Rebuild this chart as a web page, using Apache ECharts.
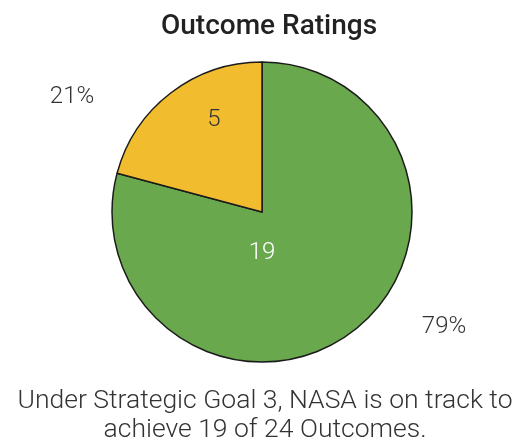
<!DOCTYPE html>
<html>
<head>
<meta charset="utf-8">
<style>
  html, body { margin: 0; padding: 0; background: #ffffff; }
  #chart { width: 515px; height: 447px; }
</style>
<script src="https://cdn.jsdelivr.net/npm/echarts@6/dist/echarts.min.js"></script>
</head>
<body>
<div id="chart"></div>
<script>
// Outcome counts by rating
const categories = ['On track', 'Not on track'];
const outcomeCounts = [19, 5];
const sliceColors = ['#6aa84e', '#f1bd2e'];

const chartTitle = 'Outcome Ratings';
const caption = 'Under Strategic Goal 3, NASA is on track to\nachieve 19 of 24 Outcomes.';

// Label anchor points (pixels) for the count and percent labels
const countLabelPos = [[262, 253], [214, 120]];
const percentLabelPos = [[444, 327], [72, 97]];
const countLabelColor = ['#ffffff', '#333333'];

const pieData = categories.map((name, i) => ({
  name: name,
  value: outcomeCounts[i],
  itemStyle: { color: sliceColors[i] },
  label: { color: countLabelColor[i] }
}));

const FONT = 'Roboto, "Liberation Sans", Arial, sans-serif';
const center = [262, 212];
const radius = 150;

const chart = echarts.init(document.getElementById('chart'));
chart.setOption({
  animation: false,
  title: {
    text: chartTitle,
    left: 156,
    top: 8,
    textStyle: { fontFamily: FONT, fontSize: 28, fontWeight: 500, color: '#222222' }
  },
  graphic: [
    {
      type: 'text',
      x: 265,
      y: 387,
      style: {
        text: caption,
        fontFamily: FONT,
        fontSize: 26.5,
        fontWeight: 300,
        fill: '#333333',
        lineHeight: 29,
        align: 'center',
        verticalAlign: 'top'
      }
    }
  ],
  series: [
    {
      type: 'pie',
      center: center,
      radius: radius,
      startAngle: 90,
      clockwise: true,
      silent: true,
      data: pieData,
      itemStyle: { borderColor: '#1b1b1b', borderWidth: 1.5 },
      label: {
        show: true,
        position: 'inside',
        formatter: p => String(p.value),
        fontFamily: FONT,
        fontSize: 24,
        fontWeight: 300
      },
      labelLine: { show: false },
      labelLayout: p => ({
        x: countLabelPos[p.dataIndex][0],
        y: countLabelPos[p.dataIndex][1],
        align: 'center',
        verticalAlign: 'middle'
      })
    },
    {
      type: 'pie',
      center: center,
      radius: radius,
      startAngle: 90,
      clockwise: true,
      silent: true,
      z: 3,
      data: categories.map((name, i) => ({ name: name, value: outcomeCounts[i] })),
      itemStyle: { color: 'rgba(0,0,0,0)', borderWidth: 0 },
      label: {
        show: true,
        position: 'outside',
        formatter: p => Math.round(p.percent) + '%',
        fontFamily: FONT,
        fontSize: 24,
        fontWeight: 300,
        color: '#333333'
      },
      labelLine: { show: false },
      labelLayout: p => ({
        x: percentLabelPos[p.dataIndex][0],
        y: percentLabelPos[p.dataIndex][1],
        align: 'center',
        verticalAlign: 'middle'
      })
    }
  ]
});
</script>
</body>
</html>
